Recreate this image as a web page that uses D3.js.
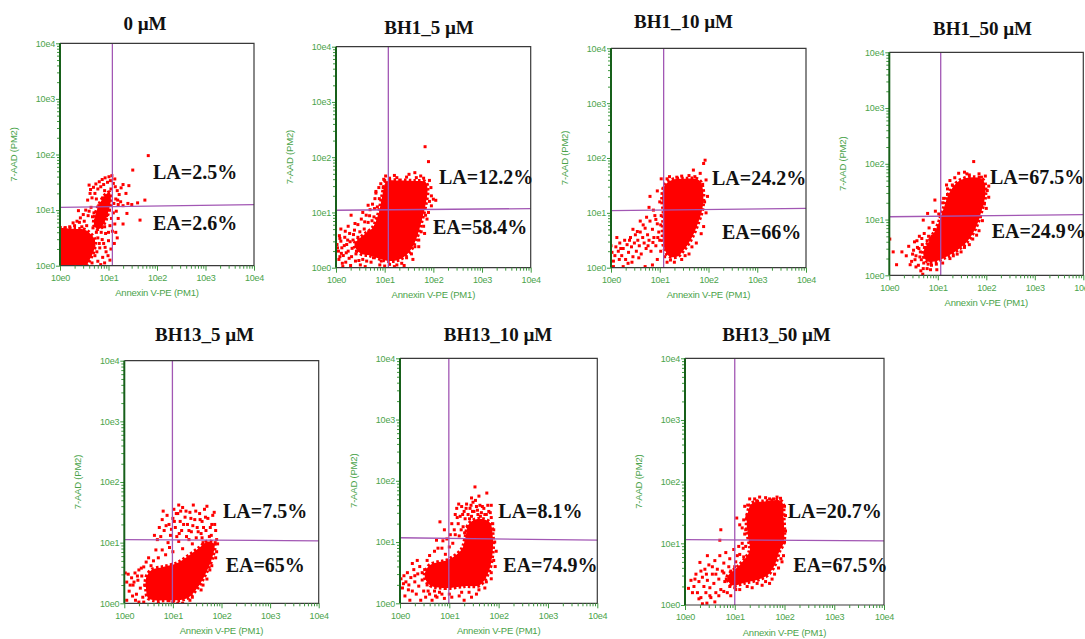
<!DOCTYPE html>
<html><head><meta charset="utf-8">
<script src="https://cdn.jsdelivr.net/npm/d3@7"></script>
<style>body{margin:0;background:#fff;overflow:hidden}</style>
</head><body><svg id="c" width="1085" height="639"></svg>
<script>
// ---------------- DATA (log10 decades) ----------------
const panelTitles = ["0 µM", "BH1_5 µM", "BH1_10 µM", "BH1_50 µM", "BH13_5 µM", "BH13_10 µM", "BH13_50 µM"];
const laLabels = ["LA=2.5%", "LA=12.2%", "LA=24.2%", "LA=67.5%", "LA=7.5%", "LA=8.1%", "LA=20.7%"];
const eaLabels = ["EA=2.6%", "EA=58.4%", "EA=66%", "EA=24.9%", "EA=65%", "EA=74.9%", "EA=67.5%"];
const tickLabels = ["10e0", "10e1", "10e2", "10e3", "10e4"];
const xAxisTitle = "Annexin V-PE (PM1)";
const yAxisTitle = "7-AAD (PM2)";
const gateX = [1.08, 1.075, 1.08, 1.06, 0.99, 0.99, 1.0];
const gateYLeft = [1.05, 1.04, 1.04, 1.05, 1.05, 1.07, 1.06];
const gateYRight = [1.10, 1.07, 1.08, 1.09, 1.03, 1.03, 1.04];

// dense cores (outline polygons), one list per panel
const cores1 = [
  [[-0.1,-0.1],[-0.1,0.64],[0.3,0.66],[0.5,0.65],[0.62,0.58],[0.72,0.46],[0.7,0.28],[0.62,0.12],[0.5,-0.05],[0.3,-0.1]],
  [[0.7,0.75],[0.74,0.95],[0.82,1.12],[0.92,1.26],[1.02,1.32],[1.05,1.18],[1.0,0.98],[0.93,0.8],[0.84,0.68],[0.76,0.66]]
];
const cores2 = [
  [[1.04,1.56],[1.3,1.58],[1.6,1.57],[1.84,1.55],[1.88,1.4],[1.83,1.1],[1.76,0.85],[1.64,0.5],[1.5,0.28],[1.3,0.15],[1.1,0.12],[0.9,0.16],[0.7,0.22],[0.5,0.26],[0.38,0.42],[0.55,0.58],[0.75,0.72],[0.88,1.0],[0.95,1.3]]
];
const cores3 = [
  [[1.1,1.5],[1.25,1.6],[1.5,1.62],[1.8,1.6],[1.88,1.45],[1.88,1.1],[1.8,0.85],[1.66,0.55],[1.5,0.33],[1.35,0.2],[1.18,0.22],[1.08,0.4],[1.06,0.7],[1.08,1.0],[1.05,1.25]]
];
const cores4 = [
  [[0.7,0.4],[0.85,0.65],[1.0,0.9],[1.12,1.2],[1.25,1.5],[1.45,1.7],[1.75,1.76],[1.94,1.7],[1.98,1.45],[1.9,1.15],[1.78,0.85],[1.6,0.6],[1.4,0.45],[1.15,0.32],[0.95,0.25],[0.78,0.25]]
];
const cores5 = [
  [[0.5,0.08],[0.9,0.05],[1.28,0.08],[1.5,0.25],[1.68,0.5],[1.82,0.78],[1.85,0.98],[1.72,1.02],[1.55,0.92],[1.35,0.8],[1.08,0.66],[0.8,0.6],[0.56,0.55],[0.45,0.42],[0.45,0.22]]
];
const cores6 = [
  [[0.6,0.3],[0.9,0.25],[1.3,0.28],[1.62,0.3],[1.8,0.52],[1.88,0.85],[1.88,1.1],[1.82,1.32],[1.6,1.38],[1.4,1.3],[1.32,1.05],[1.25,0.88],[1.0,0.72],[0.6,0.62],[0.5,0.45]]
];
const cores7 = [
  [[1.28,1.55],[1.35,1.65],[1.6,1.68],[1.94,1.68],[1.98,1.43],[1.98,1.0],[1.9,0.88],[1.82,0.68],[1.68,0.5],[1.5,0.42],[1.2,0.36],[0.95,0.32],[0.85,0.45],[1.1,0.65],[1.3,0.88],[1.27,1.1],[1.24,1.32]]
];

// individual events, one list per panel
const dots1 = [[0.62,1.3],[0.66,1.22],[0.72,1.3],[0.78,1.38],[0.84,1.42],[0.9,1.46],[0.98,1.5],[1.04,1.53],[1.1,1.48],[1.14,1.42],[1.18,1.35],[1.22,1.28],[1.26,1.4],[1.3,1.46],[1.36,1.3],[1.42,1.44],[1.5,1.72],[1.82,1.98],[1.4,1.12],[1.3,1.08],[1.2,1.1],[1.15,1.2],[1.25,1.15],[1.48,1.1],[1.6,1.13],[1.75,1.18],[1.65,0.82],[1.38,0.94],[1.3,0.75],[1.2,0.85],[1.15,0.6],[1.12,0.4],[1.18,0.5],[1.05,0.3],[1.0,0.45],[0.95,0.25],[0.88,0.15],[0.82,0.32],[0.78,0.08],[0.72,0.18],[0.85,0.6],[0.92,0.7],[0.96,0.9],[1.02,1.0],[1.06,0.85],[1.1,0.95],[0.75,0.6],[0.68,0.68],[0.55,0.72],[0.5,0.8],[0.45,0.7],[0.38,0.99],[0.58,0.9],[0.64,1.05],[0.7,0.95],[0.8,1.08],[0.88,1.22],[0.95,1.15],[1.0,1.25],[1.05,1.38],[0.6,1.45],[0.75,1.2],[0.85,0.85],[0.92,1.35],[0.4,0.78],[0.3,0.72],[0.2,0.7],[0.1,0.68],[0.78,0.5],[0.7,0.35],[0.76,0.25],[0.66,0.05],[0.9,0.4],[1.0,0.6],
  [0.57,1.18],[0.63,1.37],[0.69,1.41],[0.74,1.47],[0.81,1.51],[0.87,1.55],[0.93,1.58],[1.01,1.6],[1.07,1.62],[1.13,1.56],[0.53,1.0],[0.6,0.98],[0.67,0.88],[0.73,0.81],[0.79,0.72],[0.86,0.7],[0.94,0.58],[1.03,0.72],[1.08,0.62],[1.13,0.75],[1.16,0.98],[1.19,1.18],[1.11,1.12],[0.97,1.05],[0.83,0.98],[0.77,0.87],[0.87,0.47],[0.81,0.4],[0.93,0.33],[0.99,0.18],[0.84,0.02],[0.92,0.05],[1.03,0.1],[0.48,0.92],[0.42,0.86],[0.35,0.8],[0.27,0.77],[0.55,0.55],[0.62,0.42]];
const dots2 = [[0.02,0.42],[0.05,0.3],[0.06,0.15],[0.1,0.48],[0.12,0.36],[0.15,0.22],[0.18,0.55],[0.2,0.1],[0.22,0.42],[0.25,0.3],[0.28,0.62],[0.3,0.04],[0.32,0.2],[0.35,0.5],[0.38,0.68],[0.4,0.12],[0.45,0.78],[0.5,0.05],[0.52,0.88],[0.58,0.7],[0.6,0.02],[0.62,0.95],[0.66,0.82],[0.7,1.05],[0.72,0.1],[0.75,1.15],[0.78,0.92],[0.8,1.25],[0.82,1.38],[0.85,1.1],[0.88,1.45],[0.9,0.05],[0.92,1.52],[0.98,1.6],[0.66,1.13],[0.55,1.0],[0.31,0.95],[0.08,0.53],[0.08,0.2],[0.14,0.02],[1.0,0.03],[1.1,0.06],[1.2,0.02],[1.25,0.05],[1.35,0.08],[1.45,0.18],[1.55,0.25],[1.62,0.38],[1.7,0.5],[1.75,0.65],[1.8,0.75],[1.84,0.95],[1.9,1.0],[1.92,1.2],[1.96,1.3],[2.0,1.24],[2.05,1.22],[1.95,1.45],[1.92,1.58],[1.8,1.62],[1.65,1.63],[1.45,1.64],[1.25,1.63],[1.1,1.62],[1.0,1.58],[1.62,1.72],[1.9,1.92],[1.83,2.19],[0.45,0.55],[0.6,0.4],[0.25,0.75],[0.1,0.7],[0.82,1.35],[0.42,0.3],[0.55,0.15],
  [0.07,0.58],[0.13,0.08],[0.17,0.4],[0.21,0.27],[0.24,0.5],[0.27,0.17],[0.33,0.35],[0.36,0.6],[0.41,0.25],[0.44,0.45],[0.47,0.13],[0.53,0.38],[0.57,0.55],[0.63,0.12],[0.67,0.65],[0.71,0.35],[0.74,0.85],[0.77,0.18],[0.83,0.62],[0.86,0.88],[0.93,0.12],[0.97,1.45],[0.03,0.36],[0.11,0.26],[0.19,0.66],[0.29,0.47],[0.39,0.8],[0.49,0.65],[0.59,0.83],[0.69,0.94],[0.79,1.07],[0.89,1.25],[1.96,1.12],[1.87,0.88],[1.82,0.62],[1.7,0.38],[1.58,0.15],[1.4,0.04],[1.74,1.66],[1.5,1.69],[1.2,1.67],[1.02,1.66]];
const dots3 = [[0.0,0.4],[0.02,0.28],[0.05,0.12],[0.1,0.38],[0.15,0.3],[0.18,0.45],[0.22,0.22],[0.25,0.35],[0.28,0.5],[0.3,0.15],[0.33,0.42],[0.36,0.28],[0.4,0.55],[0.42,0.38],[0.45,0.2],[0.48,0.45],[0.5,0.6],[0.52,0.3],[0.55,0.5],[0.58,0.4],[0.6,0.65],[0.62,0.25],[0.65,0.55],[0.68,0.45],[0.7,0.72],[0.72,0.35],[0.75,0.6],[0.78,0.5],[0.8,0.85],[0.82,0.3],[0.85,0.7],[0.88,0.55],[0.9,0.95],[0.92,0.4],[0.95,0.8],[0.98,0.65],[1.0,0.5],[1.02,0.3],[0.95,0.15],[0.85,0.05],[0.7,0.02],[0.25,0.02],[0.05,0.02],[0.35,0.08],[0.8,1.3],[0.87,1.05],[0.78,1.1],[1.03,1.62],[0.95,1.4],[1.0,1.2],[1.9,1.9],[1.93,1.96],[1.83,1.72],[1.69,1.78],[1.95,1.6],[1.98,1.3],[1.95,1.0],[1.9,0.75],[1.75,0.45],[1.6,0.25],[1.45,0.15],[1.3,0.1],[1.15,0.1],[1.6,1.68],[1.35,1.65],[1.15,1.62],[0.6,0.85],[0.45,0.7],[0.12,0.55],
  [0.08,0.22],[0.2,0.35],[0.38,0.5],[0.54,0.66],[0.66,0.78],[0.76,0.4],[0.86,0.46],[0.96,0.55],[1.02,0.78],[1.03,0.95],[0.92,0.88],[0.73,0.92],[0.57,0.18],[0.43,0.1],[0.17,0.15],[1.92,1.2],[1.88,1.52],[1.72,1.66],[1.45,1.67],[1.2,1.66],[1.08,1.45],[1.85,0.62],[1.66,0.38],[1.52,0.22],[1.22,0.14],[1.1,0.2]];
const dots4 = [[0.46,0.25],[0.5,0.45],[0.52,0.6],[0.55,0.35],[0.58,0.5],[0.6,0.18],[0.62,0.7],[0.64,0.42],[0.66,0.28],[0.68,0.55],[0.7,0.12],[0.72,0.75],[0.75,0.32],[0.78,0.62],[0.8,0.2],[0.82,0.85],[0.85,0.1],[0.88,0.5],[0.9,0.95],[0.92,0.3],[0.95,0.72],[1.0,0.45],[1.02,1.1],[0.95,1.15],[0.94,1.35],[0.79,1.11],[0.7,0.99],[0.01,0.65],[0.08,0.42],[0.26,0.42],[0.15,0.19],[0.43,0.19],[0.69,0.02],[0.98,0.1],[0.35,0.35],[0.4,0.52],[1.74,2.04],[1.43,1.83],[1.55,1.85],[1.65,1.8],[1.85,1.82],[1.98,1.78],[2.05,1.6],[2.05,1.4],[2.0,1.2],[1.92,0.98],[1.85,0.8],[1.72,0.65],[1.55,0.5],[1.4,0.38],[1.25,0.3],[1.1,0.22],[1.2,1.45],[1.1,1.3],[1.05,1.05],[1.3,1.62],[1.25,1.7],[1.2,1.55],[0.88,0.7],
  [0.48,0.38],[0.53,0.28],[0.57,0.62],[0.61,0.48],[0.63,0.33],[0.67,0.66],[0.71,0.22],[0.73,0.5],[0.77,0.4],[0.81,0.7],[0.83,0.3],[0.87,0.18],[0.91,0.6],[0.93,0.82],[0.97,0.38],[1.01,0.62],[0.97,0.2],[0.55,0.15],[0.65,0.08],[0.78,0.12],[1.12,1.38],[1.18,1.62],[1.35,1.75],[1.6,1.82],[1.9,1.76],[2.02,1.52],[1.96,1.28],[1.88,1.05],[1.8,0.72],[1.65,0.55],[1.48,0.42],[1.32,0.35]];
const dots5 = [[0.72,1.25],[0.78,1.38],[0.82,1.2],[0.88,1.45],[0.92,1.3],[0.95,1.12],[1.0,1.4],[1.02,1.55],[1.05,1.25],[1.08,1.1],[1.1,1.48],[1.15,1.35],[1.18,1.2],[1.2,1.58],[1.25,1.42],[1.28,1.1],[1.3,1.3],[1.35,1.5],[1.38,1.18],[1.42,1.62],[1.45,1.38],[1.48,1.08],[1.5,1.25],[1.55,1.48],[1.58,1.15],[1.6,1.35],[1.65,1.55],[1.68,1.2],[1.72,1.4],[1.75,1.1],[1.8,1.3],[1.85,1.5],[1.88,1.2],[1.9,1.05],[0.62,1.12],[0.68,1.05],[1.12,1.62],[1.62,1.0],[1.4,0.98],[1.2,0.9],[1.0,0.85],[0.85,0.8],[0.7,0.75],[0.6,0.7],[0.65,0.88],[0.9,1.0],[0.02,0.5],[0.05,0.35],[0.08,0.48],[0.1,0.2],[0.15,0.42],[0.18,0.3],[0.22,0.5],[0.25,0.15],[0.28,0.38],[0.3,0.55],[0.33,0.25],[0.36,0.45],[0.4,0.6],[0.38,0.1],[0.42,0.3],[0.05,0.05],[0.3,0.02],[0.45,0.68],[0.5,0.75],[1.9,0.85],[1.8,0.62],[1.7,0.4],[1.58,0.22],[1.4,0.1],[1.2,0.0],[1.0,0.02],[0.7,0.0],[1.92,0.98],
  [0.75,1.1],[0.8,1.52],[0.86,1.28],[0.97,1.22],[1.03,1.35],[1.07,1.48],[1.13,1.15],[1.16,1.52],[1.22,1.3],[1.27,1.52],[1.33,1.2],[1.37,1.4],[1.41,1.28],[1.47,1.52],[1.52,1.18],[1.56,1.38],[1.63,1.25],[1.67,1.42],[1.7,1.6],[1.77,1.25],[1.82,1.45],[1.86,1.3],[1.79,1.12],[1.6,1.08],[1.33,1.05],[1.12,1.02],[0.93,0.92],[0.78,0.88],[0.55,0.62],[0.35,0.58],[0.27,0.45],[0.2,0.35],[0.12,0.3],[0.17,0.12],[0.23,0.05],[0.4,0.02],[1.1,0.0],[1.35,0.05],[1.62,0.3],[1.76,0.55],[1.88,0.75],[1.87,1.0]];
const dots6 = [[1.1,1.2],[1.12,1.45],[1.15,1.55],[1.18,1.3],[1.2,1.1],[1.22,1.42],[1.25,1.58],[1.28,1.25],[1.3,1.5],[1.32,1.38],[1.35,1.62],[1.38,1.45],[1.42,1.55],[1.45,1.42],[1.48,1.65],[1.5,1.5],[1.55,1.58],[1.58,1.45],[1.62,1.6],[1.65,1.48],[1.7,1.55],[1.75,1.45],[1.8,1.5],[1.85,1.4],[1.9,1.2],[1.92,1.0],[1.9,0.7],[1.85,0.5],[1.75,0.35],[1.6,0.22],[1.4,0.18],[1.2,0.12],[1.0,0.15],[0.9,0.08],[1.3,0.05],[1.45,0.1],[0.81,1.33],[0.74,1.03],[0.9,1.2],[0.95,1.05],[1.0,0.92],[1.05,1.3],[0.85,0.9],[0.7,0.85],[0.6,0.78],[0.55,0.7],[1.52,1.9],[1.76,1.8],[1.6,1.75],[1.45,1.72],[1.85,1.6],[0.02,0.4],[0.05,0.25],[0.08,0.45],[0.1,0.12],[0.12,0.35],[0.15,0.5],[0.18,0.3],[0.2,0.05],[0.22,0.42],[0.25,0.2],[0.28,0.55],[0.3,0.35],[0.33,0.15],[0.36,0.48],[0.38,0.28],[0.4,0.6],[0.42,0.05],[0.45,0.38],[0.48,0.2],[0.5,0.55],[0.52,0.1],[0.55,0.3],[0.6,0.15],[0.65,0.05],[0.7,0.2],[0.75,0.1],[0.8,0.18],[0.35,0.7],[0.25,0.65],
  [1.12,1.12],[1.16,1.4],[1.19,1.62],[1.24,1.2],[1.27,1.45],[1.31,1.15],[1.34,1.55],[1.37,1.25],[1.41,1.38],[1.44,1.6],[1.47,1.5],[1.53,1.68],[1.57,1.52],[1.63,1.42],[1.67,1.58],[1.72,1.45],[1.78,1.6],[1.83,1.48],[1.88,1.3],[0.77,0.9],[0.87,1.02],[0.92,0.8],[1.02,1.12],[1.07,0.98],[0.62,0.52],[0.45,0.5],[0.3,0.45],[0.17,0.22],[0.07,0.32],[0.57,0.2],[0.72,0.12],[0.85,0.15],[1.05,0.1],[1.25,0.18],[1.55,0.15],[1.72,0.25],[1.85,0.4],[1.93,0.6],[1.95,0.85]];
const dots7 = [[0.07,0.27],[0.12,0.4],[0.18,0.3],[0.22,0.5],[0.25,0.2],[0.28,0.38],[0.3,0.69],[0.32,0.12],[0.35,0.45],[0.38,0.3],[0.4,0.58],[0.42,0.2],[0.44,0.03],[0.45,0.4],[0.48,0.65],[0.5,0.28],[0.52,0.12],[0.55,0.5],[0.58,0.35],[0.6,0.72],[0.62,0.2],[0.65,0.58],[0.68,0.42],[0.7,0.8],[0.72,0.25],[0.75,0.55],[0.78,0.68],[0.8,0.38],[0.82,0.85],[0.85,0.2],[0.88,0.62],[0.9,0.75],[0.92,0.15],[0.95,0.5],[0.98,0.9],[1.0,0.62],[1.02,0.25],[1.05,0.8],[1.08,0.95],[1.12,0.55],[1.15,1.0],[1.18,0.78],[1.2,1.15],[1.22,0.95],[0.6,0.05],[0.35,0.02],[1.44,1.69],[1.04,1.41],[1.24,1.41],[0.72,1.22],[0.7,1.05],[0.45,0.8],[1.1,1.3],[1.3,1.72],[1.5,1.75],[1.7,1.72],[1.85,1.75],[2.0,1.6],[2.02,1.2],[1.98,0.8],[1.88,0.6],[1.75,0.42],[1.55,0.32],[1.35,0.28],[1.1,0.25],[1.25,1.45],[1.2,1.6],[1.15,1.25],[1.7,0.35],[1.95,0.7],
  [1.22,1.22],[1.18,1.38],[1.26,1.62],[1.4,1.72],[1.62,1.74],[1.78,1.72],[1.92,1.73],[2.02,1.45],[2.0,1.02],[1.93,0.75],[1.8,0.5],[1.62,0.38],[1.45,0.35],[1.25,0.3],[1.0,0.28],[0.9,0.3],[0.83,0.42],[0.78,0.52],[0.92,0.55],[1.02,0.7],[1.1,0.82],[1.17,0.92],[0.55,0.62],[0.62,0.5],[0.43,0.5],[0.32,0.55],[0.2,0.42],[0.15,0.2],[0.28,0.1],[0.5,0.15],[0.68,0.15],[0.78,0.22],[0.96,0.38]];

const allCores = [cores1, cores2, cores3, cores4, cores5, cores6, cores7];
const allDots = [dots1, dots2, dots3, dots4, dots5, dots6, dots7];

// ---------------- LAYOUT ----------------
const layout = [
  {l:60,   t:43.3, r:254,    b:265.7, tx:145,   ty:30,    la:[153,179],    ea:[153,230]},
  {l:336,  t:46.7, r:530.7,  b:267.7, tx:429,   ty:34,    la:[439,184.3],  ea:[433,234.3]},
  {l:611,  t:48.3, r:806,    b:267.7, tx:683.5, ty:28.3,  la:[712,185],    ea:[722,239]},
  {l:889.3,t:52.3, r:1083.3, b:275.3, tx:982.5, ty:34.5,  la:[990,184.3],  ea:[991.7,237.7]},
  {l:124.3,t:360.7,r:318.7,  b:603.3, tx:204.5, ty:340.7, la:[223,518],    ea:[225.7,572]},
  {l:400,  t:358.3,r:597.3,  b:603.3, tx:498,   ty:340.7, la:[498.3,518],  ea:[503.3,572]},
  {l:685,  t:358.3,r:884,    b:605,   tx:776.5, ty:340.7, la:[787.7,518],  ea:[793.3,572]}
];
const RED = "#ff0000", PURPLE = "#a257b4", GREEN_TXT = "#4aa34a", GREEN_TICK = "#3d9a3d", GREEN_AX = "#17601a";
const serif = "'Liberation Serif','Times New Roman',serif";
const sans = "'Liberation Sans',Arial,sans-serif";

const svg = d3.select("#c");
svg.append("rect").attr("width",1085).attr("height",639).attr("fill","#fff");

const majors = [1,10,100,1000,10000];
const minors = [];
[1,10,100,1000].forEach(p => { for (let k=2;k<=9;k++) minors.push(k*p); });

layout.forEach((L, i) => {
  const x = d3.scaleLog().domain([1,1e4]).range([L.l, L.r]);
  const y = d3.scaleLog().domain([1,1e4]).range([L.b, L.t]);
  const px = d => x(Math.pow(10, d)), py = d => y(Math.pow(10, d));
  const g = svg.append("g");

  const cid = "clip" + i;
  svg.append("defs").append("clipPath").attr("id", cid)
    .append("rect").attr("x", L.l).attr("y", L.t).attr("width", L.r - L.l).attr("height", L.b - L.t);
  const plot = g.append("g").attr("clip-path", `url(#${cid})`);

  const line = d3.line().x(p => px(p[0])).y(p => py(p[1])).curve(d3.curveCatmullRomClosed.alpha(0.5));
  plot.selectAll("path.core").data(allCores[i]).join("path").attr("class","core")
    .attr("d", line).attr("fill", RED)
    .attr("stroke", RED).attr("stroke-width", 4).attr("stroke-dasharray", "2.5 2.2");
  plot.selectAll("rect.dot").data(allDots[i]).join("rect").attr("class","dot")
    .attr("x", p => px(p[0]) - 1.5).attr("y", p => py(p[1]) - 1.5)
    .attr("width", 3).attr("height", 3).attr("fill", RED);

  // quadrant gates
  g.append("line").attr("x1", px(gateX[i])).attr("x2", px(gateX[i])).attr("y1", L.t).attr("y2", L.b)
    .attr("stroke", PURPLE).attr("stroke-width", 1.3);
  g.append("line").attr("x1", L.l).attr("x2", L.r).attr("y1", py(gateYLeft[i])).attr("y2", py(gateYRight[i]))
    .attr("stroke", PURPLE).attr("stroke-width", 1.3);

  // frame
  g.append("path").attr("d", `M${L.l},${L.t}H${L.r}V${L.b}H${L.l}`).attr("fill","none")
    .attr("stroke","#3a3a3a").attr("stroke-width",1.2);

  // bottom axis
  const xMin = g.append("g").attr("transform", `translate(0,${L.b})`)
    .call(d3.axisBottom(x).tickValues(minors).tickSize(3).tickFormat(""));
  const xMaj = g.append("g").attr("transform", `translate(0,${L.b})`)
    .call(d3.axisBottom(x).tickValues(majors).tickSize(5).tickPadding(4).tickFormat((d, k) => tickLabels[k]));
  // left axis
  const yMin = g.append("g").attr("transform", `translate(${L.l},0)`)
    .call(d3.axisLeft(y).tickValues(minors).tickSize(3).tickFormat(""));
  const yMaj = g.append("g").attr("transform", `translate(${L.l},0)`)
    .call(d3.axisLeft(y).tickValues(majors).tickSize(4).tickPadding(1).tickFormat((d, k) => tickLabels[k]));
  [xMin, xMaj, yMin, yMaj].forEach(a => {
    a.select(".domain").remove();
    a.selectAll(".tick line").attr("stroke", GREEN_TICK).attr("stroke-width", 1);
    a.selectAll("text").attr("fill", GREEN_TXT).attr("font-family", sans).attr("font-size", 9)
      .attr("letter-spacing", -0.2);
  });
  g.append("line").attr("x1", L.l).attr("x2", L.l).attr("y1", L.t).attr("y2", L.b)
    .attr("stroke", GREEN_AX).attr("stroke-width", 2);

  // axis titles
  g.append("text").attr("x", (L.l + L.r) / 2).attr("y", L.b + 30.5).attr("text-anchor","middle")
    .attr("font-family", sans).attr("font-size", 9.5).attr("letter-spacing", -0.2).attr("fill", GREEN_TXT).text(xAxisTitle);
  g.append("text").attr("transform", `translate(${L.l - 43},${(L.t + L.b) / 2}) rotate(-90)`)
    .attr("text-anchor","middle").attr("font-family", sans).attr("font-size", 9.5).attr("letter-spacing", -0.2)
    .attr("fill", GREEN_TXT).text(yAxisTitle);

  // panel title & quadrant percentages
  g.append("text").attr("x", L.tx).attr("y", L.ty).attr("text-anchor","middle")
    .attr("font-family", serif).attr("font-weight","bold").attr("font-size", 19).attr("fill","#111").text(panelTitles[i]);
  g.append("text").attr("x", L.la[0]).attr("y", L.la[1])
    .attr("font-family", serif).attr("font-weight","bold").attr("font-size", 20).attr("fill","#111").text(laLabels[i]);
  g.append("text").attr("x", L.ea[0]).attr("y", L.ea[1])
    .attr("font-family", serif).attr("font-weight","bold").attr("font-size", 20).attr("fill","#111").text(eaLabels[i]);
});
</script>
</body></html>
